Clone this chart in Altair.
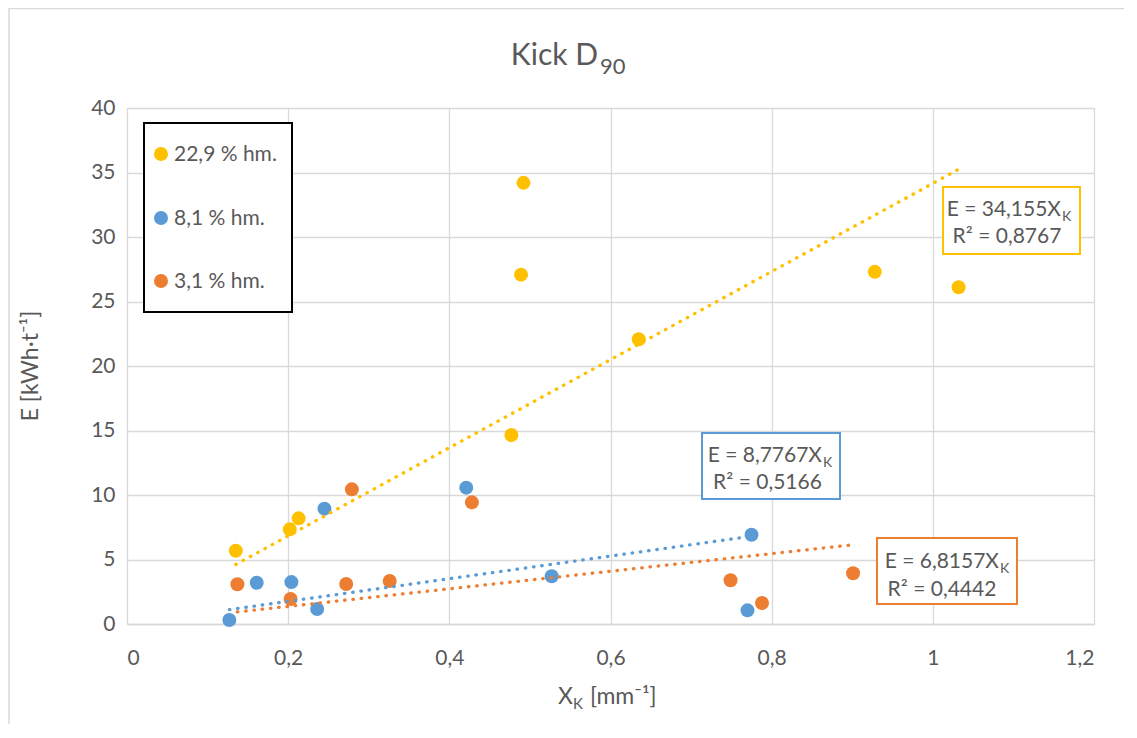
import altair as alt
import pandas as pd

# ---- data ----
series_names = ["22,9 % hm.", "8,1 % hm.", "3,1 % hm."]
series_colors = ["#FFC000", "#5B9BD5", "#ED7D31"]

x_229 = [0.135, 0.202, 0.213, 0.477, 0.489, 0.492, 0.635, 0.928, 1.032]
y_229 = [5.68, 7.34, 8.19, 14.65, 27.08, 34.2, 22.07, 27.3, 26.1]

x_81 = [0.127, 0.161, 0.204, 0.236, 0.245, 0.421, 0.527, 0.770, 0.775]
y_81 = [0.31, 3.2, 3.25, 1.16, 8.94, 10.57, 3.7, 1.06, 6.92]

x_31 = [0.137, 0.203, 0.272, 0.279, 0.326, 0.428, 0.749, 0.788, 0.901]
y_31 = [3.08, 1.94, 3.1, 10.44, 3.33, 9.43, 3.39, 1.63, 3.93]

slopes = [34.155, 8.7767, 6.8157]
eq_labels = ["E = 34,155X", "E = 8,7767X", "E = 6,8157X"]
r2_labels = ["R² = 0,8767", "R² = 0,5166", "R² = 0,4442"]

x_ticks = [0, 0.2, 0.4, 0.6, 0.8, 1.0, 1.2]
y_ticks = [0, 5, 10, 15, 20, 25, 30, 35, 40]

# ---- tables ----
rows = []
for name, xs, ys in [(series_names[0], x_229, y_229),
                     (series_names[1], x_81, y_81),
                     (series_names[2], x_31, y_31)]:
    for xv, yv in zip(xs, ys):
        rows.append({"series": name, "x": xv, "y": yv})
points = pd.DataFrame(rows)

trend_rows = []
for name, xs, k in zip(series_names, [x_229, x_81, x_31], slopes):
    trend_rows.append({"series": name, "x": min(xs), "k": k})
    trend_rows.append({"series": name, "x": max(xs), "k": k})
trend = pd.DataFrame(trend_rows)

FONT = "Lato"
GRAY = "#595959"
GRID = "#D9D9D9"
W, H = 967, 516

color_scale = alt.Scale(domain=series_names, range=series_colors)
x_scale = alt.Scale(domain=[0, 1.2], nice=False)
y_scale = alt.Scale(domain=[0, 40], nice=False)

x_axis = alt.Axis(values=x_ticks, title=None, grid=True, gridColor=GRID, gridWidth=1.3,
                  ticks=False, domain=True, domainColor=GRID, domainWidth=1.5,
                  labelFont=FONT, labelFontSize=21, labelColor=GRAY, labelPadding=23,
                  labelExpr="replace(format(datum.value, '~g'), '.', ',')")
y_axis = alt.Axis(values=y_ticks, title=None, grid=True, gridColor=GRID, gridWidth=1.3,
                  ticks=False, domain=False,
                  labelFont=FONT, labelFontSize=21, labelColor=GRAY, labelPadding=12)

pts = alt.Chart(points).mark_circle(size=195, opacity=1).encode(
    x=alt.X("x:Q", scale=x_scale, axis=x_axis),
    y=alt.Y("y:Q", scale=y_scale, axis=y_axis),
    color=alt.Color("series:N", scale=color_scale, legend=None),
)

lines = alt.Chart(trend).transform_calculate(yy="datum.k * datum.x").mark_line(
    strokeWidth=3.3, strokeDash=[0.5, 7.8], strokeCap="round"
).encode(
    x=alt.X("x:Q", scale=x_scale),
    y=alt.Y("yy:Q", scale=y_scale),
    color=alt.Color("series:N", scale=color_scale, legend=None),
    detail="series:N",
)

one = pd.DataFrame({"a": [0]})


def text(s, px, py, size=21, align="left", baseline="alphabetic", angle=0, color=GRAY):
    kw = dict(font=FONT, fontSize=size, align=align, baseline=baseline, color=color)
    if angle:
        kw["angle"] = angle
    return alt.Chart(one).mark_text(**kw).encode(
        x=alt.value(px), y=alt.value(py), text=alt.value(s))


def box(x0, y0, x1, y1, stroke, sw=2):
    return alt.Chart(one).mark_rect(fill="white", stroke=stroke, strokeWidth=sw).encode(
        x=alt.value(x0), x2=alt.value(x1), y=alt.value(y0), y2=alt.value(y1))


layers = [pts, lines]

# title
layers += [text("Kick D", 471, -43, size=30, align="right"),
           text("90", 473, -34, size=22)]

# axis titles
layers += [text("E [kWh·t⁻¹]", -96, 258, size=23, align="center", baseline="middle", angle=270)]
layers += [text("X", 446, 596, size=23, align="right"),
           text("K", 446, 601, size=15),
           text("[mm⁻¹]", 463, 596, size=23)]

# legend
legend_y = [46, 110, 173]
layers.append(box(17, 15, 165, 204, "black", sw=2))
for name, col, ly in zip(series_names, series_colors, legend_y):
    layers.append(alt.Chart(one).mark_circle(size=195, opacity=1, color=col).encode(
        x=alt.value(34), y=alt.value(ly)))
    layers.append(text(name, 47, ly + 1, baseline="middle"))

# equation boxes
boxes = [
    (816, 79, 953, 146, 934, 108, 880, 135),
    (575, 325, 713, 391, 695, 354, 640.5, 381),
    (750, 430, 890, 496, 872, 460, 815, 488),
]
for (bx0, by0, bx1, by1, ex, ey, rx, ry), col, eq, r2 in zip(boxes, series_colors, eq_labels, r2_labels):
    layers.append(box(bx0, by0, bx1, by1, col))
    layers.append(text(eq, ex, ey, align="right"))
    layers.append(text("K", ex + 1, ey + 5, size=14))
    layers.append(text(r2, rx, ry, align="center"))

# outer chart border (top and left edge)
layers.append(alt.Chart(one).mark_rule(color=GRID, strokeWidth=1.5).encode(
    x=alt.value(-118), x2=alt.value(1000), y=alt.value(-99.5)))
layers.append(alt.Chart(one).mark_rule(color=GRID, strokeWidth=1.5).encode(
    x=alt.value(-118), y=alt.value(-100), y2=alt.value(620)))

chart = alt.layer(*layers).properties(
    width=W, height=H,
    autosize=alt.AutoSizeParams(type="none"),
    padding={"left": 119, "top": 100, "right": 30, "bottom": 100},
).configure_view(stroke=None).configure(background="white")

chart.save("out.html", embed_options={"renderer": "svg", "actions": False})
